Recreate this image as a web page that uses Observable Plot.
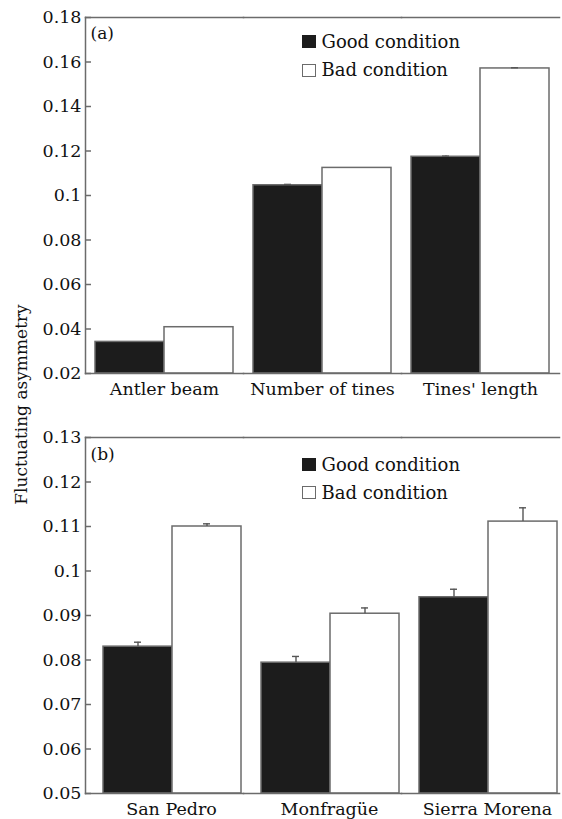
<!DOCTYPE html>
<html><head><meta charset="utf-8">
<script src="https://cdn.jsdelivr.net/npm/d3@7"></script>
<script src="https://cdn.jsdelivr.net/npm/@observablehq/plot@0.6"></script>
<style>
body{margin:0;background:#fff;font-family:"DejaVu Serif",serif;}
#wrap{position:relative;width:562px;height:819px;}
#wrap svg{display:block;}
.lab{position:absolute;font-size:17px;line-height:17px;color:#111;white-space:nowrap;}
.leg{font-size:18px;line-height:18px;}
.sw{position:absolute;width:13.5px;height:13px;box-sizing:border-box;}
</style></head><body><div id="wrap"></div>
<script>
const categoriesA = ["Antler beam", "Number of tines", "Tines' length"];
const categoriesB = ["San Pedro", "Monfragüe", "Sierra Morena"];
const conditions = ["Good", "Bad"];
const conditionLabels = ["Good condition", "Bad condition"];
const goodA = [0.0342, 0.1046, 0.1174];
const badA = [0.0408, 0.1124, 0.1571];
const goodErrA = [0, 0.0004, 0.0003];
const badErrA = [0, 0, 0.0003];
const goodB = [0.0830, 0.0794, 0.0941];
const badB = [0.1100, 0.0904, 0.1111];
const goodErrB = [0.0010, 0.0014, 0.0018];
const badErrB = [0.0006, 0.0013, 0.0031];
const yTicksA = [0.02, 0.04, 0.06, 0.08, 0.1, 0.12, 0.14, 0.16, 0.18];
const yTicksB = [0.05, 0.06, 0.07, 0.08, 0.09, 0.1, 0.11, 0.12, 0.13];
const panelLabels = ["(a)", "(b)"];
const yTitle = "Fluctuating asymmetry";

const LINE = "#6b6b6b";
const fmt = d => String(Math.round(d * 1000) / 1000);

function makePanel(cats, good, bad, gErr, bErr, ticks, o) {
  const data = [];
  cats.forEach((c, i) => {
    data.push({cat: c, cond: "Good", value: good[i], err: gErr[i]});
    data.push({cat: c, cond: "Bad", value: bad[i], err: bErr[i]});
  });
  const errData = data.filter(d => d.err > 0).map(d => ({...d, top: d.value + d.err}));
  return Plot.plot({
    width: 562, height: o.height,
    marginTop: o.marginTop, marginBottom: o.marginBottom, marginLeft: 84, marginRight: o.marginRight,
    style: {fontFamily: "DejaVu Serif", fontSize: "17.5px", color: "#111", background: "transparent", overflow: "visible"},
    fx: {domain: cats, padding: 0, label: null},
    x: {domain: conditions, paddingInner: 0, paddingOuter: 0.141, align: o.align, axis: null},
    y: {domain: [ticks[0], ticks[ticks.length - 1]], axis: null},
    color: {domain: conditions, range: ["#1c1c1c", "#ffffff"]},
    marks: [
      Plot.barY(data, {fx: "cat", x: "cond", y1: ticks[0], y2: "value", fill: "cond", stroke: LINE, strokeWidth: 1.5}),
      Plot.ruleX(errData, {fx: "cat", x: "cond", y1: "value", y2: "top", stroke: "#555", strokeWidth: 1.4}),
      Plot.tickY(errData, {fx: "cat", x: "cond", y: "top", insetLeft: 31, insetRight: 31, stroke: "#555", strokeWidth: 1.4}),
      Plot.frame({anchor: "top", stroke: LINE, strokeWidth: 1.5}),
      Plot.frame({anchor: "bottom", stroke: LINE, strokeWidth: 1.5}),
      Plot.frame({anchor: "left", facetAnchor: "left", stroke: LINE, strokeWidth: 1.5}),
      Plot.axisY({ticks, tickSize: 6, dx: 6, text: null, stroke: LINE, strokeWidth: 1.5}),
      Plot.axisY({ticks, tickSize: 0, tickPadding: 4, tickFormat: fmt, fontSize: 17.5, fill: "#111"}),
      Plot.axisFx({anchor: "bottom", tickSize: 0, tickPadding: 9, label: null, dx: o.fxDx, fontSize: 17.5, fill: "#111"})
    ]
  });
}

const wrap = document.getElementById("wrap");
wrap.appendChild(makePanel(categoriesA, goodA, badA, goodErrA, badErrA, yTicksA,
  {height: 410, marginTop: 17, marginBottom: 37, marginRight: 2, align: 0.52, fxDx: 0}));
wrap.appendChild(makePanel(categoriesB, goodB, badB, goodErrB, badErrB, yTicksB,
  {height: 409, marginTop: 27, marginBottom: 26, marginRight: 2.5, align: 0.91, fxDx: 7}));

function addText(txt, left, baseline, cls) {
  const d = document.createElement("div");
  d.className = "lab" + (cls ? " " + cls : ""); d.textContent = txt;
  const fs = cls ? 18 : 17;
  d.style.left = left + "px"; d.style.top = (baseline - fs * 0.847) + "px";
  wrap.appendChild(d);
}
function addSwatch(left, top, filled) {
  const s = document.createElement("div");
  s.className = "sw";
  s.style.left = left + "px"; s.style.top = top + "px";
  s.style.background = filled ? "#1c1c1c" : "#fff";
  s.style.border = filled ? "none" : "1.5px solid " + LINE;
  wrap.appendChild(s);
}
// panel labels
addText(panelLabels[0], 90.5, 39.5);
addText(panelLabels[1], 90.5, 460.5);
// legends
[[35, 48, 63.5, 76], [457.5, 471, 486, 499]].forEach(([s1, b1, s2, b2]) => {
  addSwatch(302, s1, true); addText(conditionLabels[0], 321.5, b1, "leg");
  addSwatch(302, s2, false); addText(conditionLabels[1], 321.5, b2, "leg");
});
// y title
const t = document.createElement("div");
t.className = "lab"; t.textContent = yTitle;
t.style.width = "240px"; t.style.textAlign = "center";
t.style.left = (21 - 120) + "px"; t.style.top = (404.5 - 8.5) + "px";
t.style.transform = "rotate(-90deg)";
wrap.appendChild(t);
</script></body></html>
